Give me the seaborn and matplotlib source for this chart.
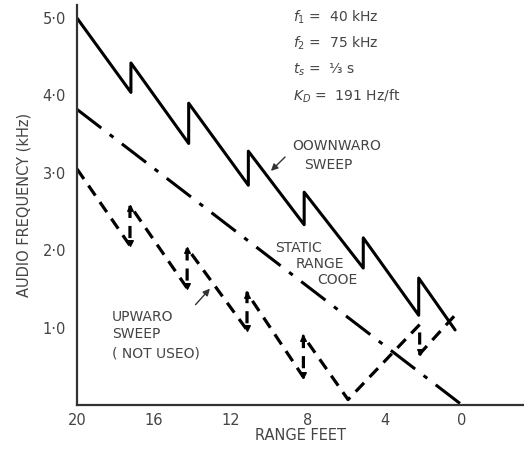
import matplotlib
matplotlib.use("Agg")
import matplotlib.pyplot as plt
import seaborn as sns
import pandas as pd

# range (ft) and audio frequency (kHz)
down_range = [20, 17.2, 17.2, 14.2, 14.2, 11.1, 11.1, 8.2, 8.2, 5.13, 5.13, 2.25, 2.25, 0.36]
down_freq = [5.0, 4.04, 4.42, 3.38, 3.9, 2.84, 3.28, 2.33, 2.75, 1.77, 2.16, 1.16, 1.64, 0.97]

up_range = [20, 17.25, 17.25, 14.28, 14.28, 11.17, 11.17, 8.24, 8.24, 5.92, 2.2, 2.2, 0.22]
up_freq = [3.05, 2.06, 2.58, 1.51, 2.03, 0.97, 1.45, 0.36, 0.89, 0.07, 1.04, 0.66, 1.2]

static_range = [20, 0]
static_freq = [3.82, 0.0]

x_ticks = [20, 16, 12, 8, 4, 0]
y_ticks = [1.0, 2.0, 3.0, 4.0, 5.0]

params = [r"$f_1$ =  40 kHz", r"$f_2$ =  75 kHz", r"$t_s$ =  ⅓ s", r"$K_D$ =  191 Hz/ft"]

sns.set_style("white")
plt.rcParams["font.family"] = ["DejaVu Sans"]
plt.rcParams["mathtext.fontset"] = "dejavusans"
TXT = "#444444"

fig = plt.figure(figsize=(5.24, 4.5), dpi=100)
ax = fig.add_axes([0.147, 0.1, 0.853, 0.889])

down = pd.DataFrame({"range": down_range, "freq": down_freq})
up = pd.DataFrame({"range": up_range, "freq": up_freq})
static = pd.DataFrame({"range": static_range, "freq": static_freq})

sns.lineplot(data=down, x="range", y="freq", sort=False, estimator=None,
             color="black", lw=2.2, ax=ax)
sns.lineplot(data=static, x="range", y="freq", sort=False, estimator=None,
             color="black", lw=2.2, ax=ax)
ax.lines[-1].set_dashes((10, 3.5, 1.5, 3.5))
sns.lineplot(data=up, x="range", y="freq", sort=False, estimator=None,
             color="black", lw=2.3, ax=ax)
ax.lines[-1].set_dashes((3.8, 2.5))

# arrow heads on the jumps of the upward sweep
tops = [(up_range[i], up_freq[i]) for i in (2, 4, 6, 8)]
bots = [(up_range[i], up_freq[i]) for i in (1, 3, 5, 7, 11)]
ax.scatter([p[0] for p in tops], [p[1] - 0.03 for p in tops], marker="^", s=16,
           color="black", zorder=3)
ax.scatter([p[0] for p in bots], [p[1] + 0.03 for p in bots], marker="v", s=16,
           color="black", zorder=3)

ax.set_xlim(20, -3.22)
ax.set_ylim(0, 5.17)
ax.set_xticks(x_ticks)
ax.set_xticklabels([str(t) for t in x_ticks])
ax.set_yticks(y_ticks)
ax.set_yticklabels([f"{t:.1f}".replace(".", "·") for t in y_ticks])
ax.tick_params(direction="in", length=5, width=1.2, colors="#333333", labelcolor=TXT,
               labelsize=10.5, pad=8)
ax.tick_params(axis="x", pad=6)
sns.despine(ax=ax)
for s in ("left", "bottom"):
    ax.spines[s].set_color("#333333")
    ax.spines[s].set_linewidth(1.6)

ax.set_xlabel("RANGE FEET", color=TXT, fontsize=10.5, labelpad=0)
ax.set_ylabel("AUDIO FREQUENCY (kHz)", color=TXT, fontsize=10.5, labelpad=8)

for i, p in enumerate(params):
    fig.text(293 / 524, 1 - (17 + 26.5 * i) / 450, p, color=TXT, fontsize=10, va="center")

ax.text(8.83, 3.35, "OOWNWARO", color=TXT, fontsize=10, va="center")
ax.text(8.2, 3.10, "SWEEP", color=TXT, fontsize=10, va="center")
ax.annotate("", xy=(10.03, 3.0), xytext=(9.09, 3.23),
            arrowprops=dict(arrowstyle="-|>", color="#333333", lw=1, mutation_scale=10))

ax.text(8.47, 2.03, "STATIC", color=TXT, fontsize=10, va="center", ha="center")
ax.text(7.38, 1.82, "RANGE", color=TXT, fontsize=10, va="center", ha="center")
ax.text(6.5, 1.61, "COOE", color=TXT, fontsize=10, va="center", ha="center")

ax.text(18.18, 1.14, "UPWARO", color=TXT, fontsize=10, va="center")
ax.text(18.18, 0.92, "SWEEP", color=TXT, fontsize=10, va="center")
ax.text(18.18, 0.67, "( NOT USEO)", color=TXT, fontsize=10, va="center")
ax.annotate("", xy=(13.0, 1.53), xytext=(13.94, 1.27),
            arrowprops=dict(arrowstyle="-|>", color="#333333", lw=1, mutation_scale=10))

fig.savefig("out.png", dpi=100)
